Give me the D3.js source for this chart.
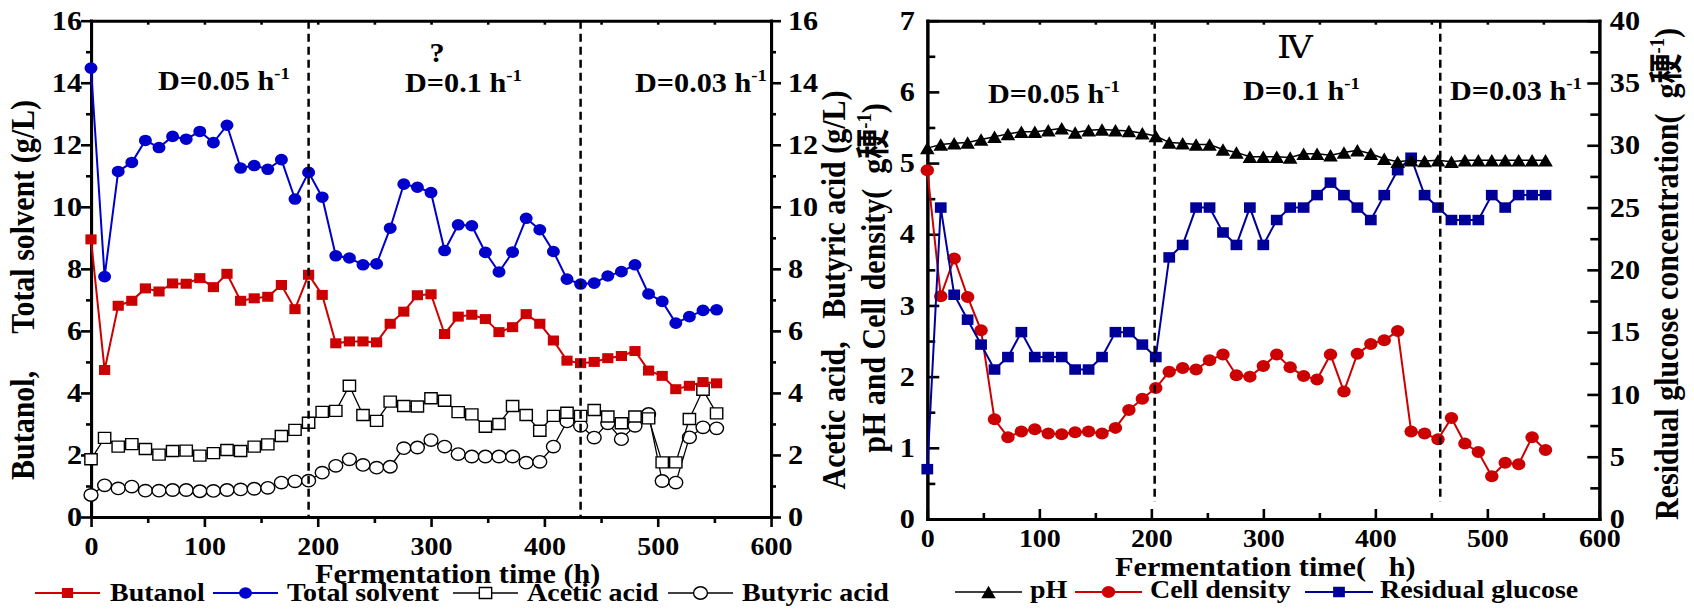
<!DOCTYPE html>
<html><head><meta charset="utf-8">
<script src="https://cdn.jsdelivr.net/npm/d3@7"></script>
<style>
body{margin:0;background:#fff;}
svg{display:block;}
text{font-family:"Liberation Serif","Times New Roman","Noto Sans CJK SC",serif;font-weight:bold;fill:#000;white-space:pre;}
</style></head><body>
<script>
// ---------------- data ----------------
const hours = [0,12,24,36,48,60,72,84,96,108,120,132,144,156,168,180,192,204,216,228,240,252,264,276,288,300,312,324,336,348,360,372,384,396,408,420,432,444,456,468,480,492,504,516,528,540,552];
const butanol = [8.95,4.74,6.81,6.97,7.37,7.27,7.53,7.52,7.70,7.41,7.84,6.97,7.05,7.10,7.48,6.70,7.81,7.16,5.60,5.66,5.66,5.63,6.23,6.62,7.15,7.18,5.90,6.46,6.52,6.38,5.96,6.12,6.54,6.23,5.69,5.04,4.96,5.00,5.12,5.19,5.35,4.72,4.55,4.12,4.23,4.35,4.31];
const totalSolvent = [14.47,7.75,11.14,11.43,12.14,11.91,12.27,12.18,12.43,12.07,12.63,11.25,11.33,11.21,11.52,10.25,11.11,10.31,8.42,8.35,8.13,8.16,9.31,10.73,10.63,10.46,8.59,9.42,9.39,8.53,7.90,8.54,9.63,9.26,8.56,7.67,7.51,7.54,7.77,7.91,8.13,7.19,6.95,6.25,6.46,6.66,6.68];
const aceticAcid = [1.86,2.55,2.27,2.35,2.19,2.01,2.13,2.14,1.98,2.06,2.16,2.13,2.27,2.34,2.61,2.81,3.04,3.39,3.42,4.23,3.29,3.10,3.72,3.58,3.56,3.83,3.75,3.38,3.31,2.91,3.00,3.58,3.29,2.78,3.26,3.36,3.26,3.45,3.24,3.02,3.24,3.18,1.76,1.76,3.16,4.10,3.34];
const butyricAcid = [0.71,1.02,0.92,0.98,0.85,0.85,0.87,0.87,0.83,0.84,0.87,0.89,0.91,0.94,1.11,1.15,1.17,1.43,1.65,1.86,1.68,1.59,1.62,2.22,2.24,2.48,2.27,2.03,1.95,1.95,1.95,1.95,1.75,1.78,2.27,3.08,2.94,2.56,3.02,2.51,2.94,3.32,1.16,1.11,2.57,2.89,2.86];
const pH = [5.21,5.26,5.28,5.29,5.33,5.37,5.41,5.44,5.44,5.46,5.49,5.43,5.46,5.47,5.46,5.45,5.42,5.38,5.29,5.28,5.26,5.26,5.19,5.15,5.09,5.09,5.09,5.08,5.13,5.13,5.11,5.15,5.18,5.13,5.06,5.02,5.04,5.03,5.04,5.02,5.04,5.04,5.04,5.04,5.04,5.04,5.04];
const cellDensity = [4.90,3.13,3.66,3.12,2.65,1.40,1.15,1.23,1.26,1.20,1.19,1.22,1.23,1.20,1.28,1.53,1.69,1.84,2.07,2.12,2.10,2.23,2.31,2.02,2.00,2.15,2.31,2.13,2.01,1.96,2.31,1.79,2.32,2.46,2.51,2.64,1.23,1.20,1.12,1.42,1.06,0.94,0.60,0.79,0.77,1.15,0.97];
const residualGlucose = [4,25,18,16,14,12,13,15,13,13,13,12,12,13,15,15,14,13,21,22,25,25,23,22,25,22,24,25,25,26,27,26,25,24,26,28,29,26,25,24,24,24,26,25,26,26,26];

const timeTicks = [0,100,200,300,400,500,600];
const timeMinorTicks = [50,150,250,350,450,550];
const timeTopTicks = [50,100,150,200,250,300,350,400,450,500,550];
const concTicks = [0,2,4,6,8,10,12,14,16];
const concMinorTicks = [1,3,5,7,9,11,13,15];
const phTicks = [0,1,2,3,4,5,6,7];
const phMinorTicks = [0.5,1.5,2.5,3.5,4.5,5.5,6.5];
const glucoseTicks = [0,5,10,15,20,25,30,35,40];
const glucoseMinorTicks = [2.5,7.5,12.5,17.5,22.5,27.5,32.5,37.5];
const leftPhaseBreaks = [192,432];
const rightPhaseBreaks = [203,458];
const leftPhaseLabels = ["D=0.05 h","D=0.1 h","D=0.03 h"];
const rightPhaseLabels = ["D=0.05 h","D=0.1 h","D=0.03 h"];
const leftSeriesNames = ["Butanol","Total solvent","Acetic acid","Butyric acid"];
const rightSeriesNames = ["pH","Cell density","Residual glucose"];

// ---------------- setup ----------------
const W = 1694, H = 609, SX = 1.12, IW = W / SX;
const ix = v => v / SX;
const RED = "#CC0000", BLUE = "#0000CC", NAVY = "#000099";
const fmt = d3.format("d");

const svg = d3.select("body").append("svg")
  .attr("width", W).attr("height", H)
  .attr("viewBox", `0 0 ${IW} ${H}`)
  .attr("preserveAspectRatio", "none");

const shapes = {
  square: s => `M${-s/2},${-s/2}h${s}v${s}h${-s}Z`,
  circle: r => `M${-r},0a${r},${r} 0 1,0 ${2*r},0a${r},${r} 0 1,0 ${-2*r},0Z`,
  triangle: s => `M0,${-s/2}L${s*0.52},${s/2}L${-s*0.52},${s/2}Z`
};

function styleAxis(sel, fs) {
  sel.select(".domain").attr("stroke", "#000").attr("stroke-width", 3)
     .attr("stroke-linecap", "square").attr("vector-effect", "non-scaling-stroke");
  sel.selectAll(".tick line").attr("stroke", "#000").attr("stroke-width", 2.6)
     .attr("vector-effect", "non-scaling-stroke");
  if (fs) sel.selectAll(".tick text").attr("font-size", fs).attr("fill", "#000");
  else sel.selectAll(".tick text").remove();
}
function addAxis(parent, gen, tx, ty, fs) {
  return parent.append("g").attr("transform", `translate(${tx},${ty})`).call(gen).call(styleAxis, fs);
}

function plotSeries(g, xs, ys, vals, st) {
  const pts = hours.map((t, i) => ({t, v: vals[i]}));
  g.append("path").datum(pts)
    .attr("d", d3.line().x(d => xs(d.t)).y(d => ys(d.v)))
    .attr("fill", "none").attr("stroke", st.line).attr("stroke-width", st.lw)
    .attr("vector-effect", "non-scaling-stroke");
  g.append("g").selectAll("path").data(pts).join("path")
    .attr("transform", d => `translate(${xs(d.t)},${ys(d.v)})`)
    .attr("d", shapes[st.shape](st.size))
    .attr("fill", st.fill).attr("stroke", st.stroke || "none").attr("stroke-width", st.sw || 0)
    .attr("vector-effect", "non-scaling-stroke");
}

function supLabel(g, xReal, y, main, sup, fs, anchor) {
  const t = g.append("text").attr("x", ix(xReal)).attr("y", y).attr("font-size", fs)
    .attr("text-anchor", anchor || "start");
  t.append("tspan").text(main);
  t.append("tspan").attr("font-size", fs * 0.62).attr("dy", -fs * 0.42).text(sup);
  return t;
}

function legendItem(g, x1, x2, y, tx, ty, name, st) {
  g.append("line").attr("x1", ix(x1)).attr("x2", ix(x2)).attr("y1", y).attr("y2", y)
    .attr("stroke", st.line).attr("stroke-width", st.lw).attr("vector-effect", "non-scaling-stroke");
  g.append("path").attr("transform", `translate(${ix((x1 + x2) / 2)},${y})`)
    .attr("d", shapes[st.shape](st.size)).attr("fill", st.fill)
    .attr("stroke", st.stroke || "none").attr("stroke-width", st.sw || 0)
    .attr("vector-effect", "non-scaling-stroke");
  g.append("text").attr("x", ix(tx)).attr("y", ty).attr("font-size", 25).text(name);
}

function vTitle(g, xReal, yc, parts, fs) {
  const t = g.append("text").attr("transform", `translate(${ix(xReal)},${yc}) rotate(-90)`)
    .attr("text-anchor", "middle").attr("font-size", fs);
  parts.forEach(p => {
    const s = t.append("tspan").text(p.t);
    if (p.sup) s.attr("font-size", fs * 0.62).attr("dy", -fs * 0.42);
    if (p.after) s.attr("dy", fs * 0.42);
  });
}

// ================= LEFT CHART =================
const gL = svg.append("g");
const L = {x0: 91, x1: 771, y0: 517, y1: 20.7};
const xL = d3.scaleLinear().domain([0, 600]).range([ix(L.x0), ix(L.x1)]);
const yL = d3.scaleLinear().domain([0, 16]).range([L.y0, L.y1]);

addAxis(gL, d3.axisBottom(xL).tickValues(timeTicks).tickFormat(fmt).tickSize(10).tickSizeOuter(0).tickPadding(10.5), 0, L.y0, 25);
addAxis(gL, d3.axisBottom(xL).tickValues(timeMinorTicks).tickSize(6).tickSizeOuter(0), 0, L.y0, 0);
addAxis(gL, d3.axisTop(xL).tickValues(timeTopTicks).tickSize(-4).tickSizeOuter(0), 0, L.y1, 0);
addAxis(gL, d3.axisLeft(yL).tickValues(concTicks).tickFormat(fmt).tickSize(ix(10)).tickSizeOuter(0).tickPadding(ix(9) - ix(10)), ix(L.x0), 0, 27);
addAxis(gL, d3.axisLeft(yL).tickValues(concMinorTicks).tickSize(ix(5)).tickSizeOuter(0), ix(L.x0), 0, 0);
addAxis(gL, d3.axisRight(yL).tickValues(concTicks).tickFormat(fmt).tickSize(ix(10)).tickSizeOuter(0).tickPadding(ix(17) - ix(10)), ix(L.x1), 0, 27);
addAxis(gL, d3.axisRight(yL).tickValues(concMinorTicks).tickSize(ix(5)).tickSizeOuter(0), ix(L.x1), 0, 0);

const stBut = {line: RED, lw: 2, shape: "square", size: 10, fill: RED};
const stTot = {line: BLUE, lw: 2, shape: "circle", size: 5.8, fill: BLUE};
const stAce = {line: "#000", lw: 1.3, shape: "square", size: 11, fill: "#fff", stroke: "#000", sw: 1.4};
const stButy = {line: "#000", lw: 1.3, shape: "circle", size: 6.2, fill: "#fff", stroke: "#000", sw: 1.4};

plotSeries(gL, xL, yL, butyricAcid, stButy);
plotSeries(gL, xL, yL, aceticAcid, stAce);
plotSeries(gL, xL, yL, butanol, stBut);
plotSeries(gL, xL, yL, totalSolvent, stTot);

gL.selectAll("line.phase").data(leftPhaseBreaks).join("line").attr("class", "phase")
  .attr("x1", d => xL(d)).attr("x2", d => xL(d)).attr("y1", L.y1).attr("y2", L.y0)
  .attr("stroke", "#000").attr("stroke-width", 2.5).attr("stroke-dasharray", "8,5")
  .attr("vector-effect", "non-scaling-stroke");

supLabel(gL, 158, 90, leftPhaseLabels[0], "-1", 27);
gL.append("text").attr("x", ix(437)).attr("y", 62).attr("font-size", 27).attr("text-anchor", "middle").text("?");
supLabel(gL, 405, 92, leftPhaseLabels[1], "-1", 27);
supLabel(gL, 635, 92, leftPhaseLabels[2], "-1", 27);

gL.append("text").attr("x", ix(315)).attr("y", 583.5).attr("font-size", 27).text("Fermentation time (h)");
vTitle(gL, 34, 290, [{t: "Butanol,     Total solvent (g/L)"}], 30);
vTitle(gL, 845, 290, [{t: "Acetic acid,   Butyric acid (g/L)"}], 30);

const legL = [[35, 100, 110, stBut], [213, 278, 287, stTot], [453, 518, 527, stAce], [668, 733, 742, stButy]];
legL.forEach((l, i) => legendItem(gL, l[0], l[1], 593, l[2], 601.5, leftSeriesNames[i], l[3]));

// ================= RIGHT CHART =================
const gR = svg.append("g");
const R = {x0: 927.3, x1: 1599.3, y0: 519, y1: 20.7};
const xR = d3.scaleLinear().domain([0, 600]).range([ix(R.x0), ix(R.x1)]);
const yR = d3.scaleLinear().domain([0, 7]).range([R.y0, R.y1]);
const yG = d3.scaleLinear().domain([0, 40]).range([R.y0, R.y1]);

addAxis(gR, d3.axisBottom(xR).tickValues(timeTicks).tickFormat(fmt).tickSize(-10).tickSizeOuter(0).tickPadding(10.5), 0, R.y0, 25);
addAxis(gR, d3.axisBottom(xR).tickValues(timeMinorTicks).tickSize(-6).tickSizeOuter(0), 0, R.y0, 0);
addAxis(gR, d3.axisTop(xR).tickValues(timeTopTicks).tickSize(-4).tickSizeOuter(0), 0, R.y1, 0);
addAxis(gR, d3.axisLeft(yR).tickValues(phTicks).tickFormat(fmt).tickSize(-ix(12)).tickSizeOuter(0).tickPadding(ix(12.5)), ix(R.x0), 0, 27);
addAxis(gR, d3.axisLeft(yR).tickValues(phMinorTicks).tickSize(-ix(8)).tickSizeOuter(0), ix(R.x0), 0, 0);
addAxis(gR, d3.axisRight(yG).tickValues(glucoseTicks).tickFormat(fmt).tickSize(-ix(12)).tickSizeOuter(0).tickPadding(ix(10.5)), ix(R.x1), 0, 27);
addAxis(gR, d3.axisRight(yG).tickValues(glucoseMinorTicks).tickSize(-ix(9)).tickSizeOuter(0), ix(R.x1), 0, 0);

const stPH = {line: "#000", lw: 1.5, shape: "triangle", size: 12.5, fill: "#000"};
const stCell = {line: RED, lw: 2, shape: "circle", size: 6, fill: RED};
const stGlu = {line: NAVY, lw: 2, shape: "square", size: 10.5, fill: NAVY};

plotSeries(gR, xR, yR, cellDensity, stCell);
plotSeries(gR, xR, yG, residualGlucose, stGlu);
plotSeries(gR, xR, yR, pH, stPH);

gR.selectAll("line.phase").data(rightPhaseBreaks).join("line").attr("class", "phase")
  .attr("x1", d => xR(d)).attr("x2", d => xR(d)).attr("y1", R.y1).attr("y2", 502)
  .attr("stroke", "#000").attr("stroke-width", 2.5).attr("stroke-dasharray", "8,5")
  .attr("vector-effect", "non-scaling-stroke");

supLabel(gR, 988, 103, rightPhaseLabels[0], "-1", 27);
gR.append("text").attr("x", ix(1277)).attr("y", 58).attr("font-size", 32)
  .style("font-family", "'DejaVu Serif','Noto Sans CJK SC',serif").style("font-weight", "normal").text("Ⅳ");
supLabel(gR, 1243, 100, rightPhaseLabels[1], "-1", 27);
supLabel(gR, 1450, 100, rightPhaseLabels[2], "-1", 27);

gR.append("text").attr("x", ix(1115)).attr("y", 576).attr("font-size", 27).text("Fermentation time(   h)");
vTitle(gR, 885, 278, [{t: "pH and Cell density(  g稉"}, {t: "-1", sup: true}, {t: ")", after: true}], 30);
vTitle(gR, 1678, 274, [{t: "Residual glucose concentration(  g稉"}, {t: "-1", sup: true}, {t: ")", after: true}], 30);

const legR = [[955, 1022, 1030, stPH], [1075, 1142, 1150, stCell], [1305, 1373, 1380, stGlu]];
legR.forEach((l, i) => legendItem(gR, l[0], l[1], 592, l[2], 598.5, rightSeriesNames[i], l[3]));
</script>
</body></html>
